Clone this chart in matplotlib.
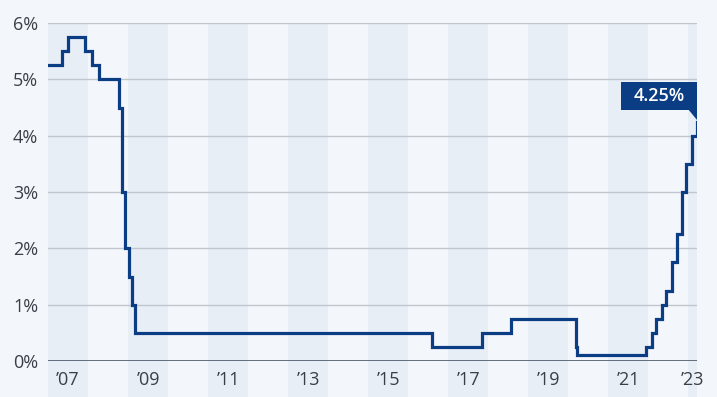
import numpy as np
import pandas as pd
import matplotlib
matplotlib.use('Agg')
import matplotlib.pyplot as plt
from matplotlib.patches import Rectangle, Polygon
from matplotlib.transforms import ScaledTranslation

# Bank rate decisions (date, rate in %)
dates = ['2007-01-11', '2007-05-10', '2007-07-05', '2007-12-06', '2008-02-07',
         '2008-04-10', '2008-10-08', '2008-11-06', '2008-12-04', '2009-01-08',
         '2009-02-05', '2009-03-05', '2016-08-04', '2017-11-02', '2018-08-02',
         '2020-03-11', '2020-03-19', '2021-12-16', '2022-02-03', '2022-03-17',
         '2022-05-05', '2022-06-16', '2022-08-04', '2022-09-22', '2022-11-03',
         '2022-12-15', '2023-02-02', '2023-03-23']
rates = [5.25, 5.5, 5.75, 5.5, 5.25, 5.0, 4.5, 3.0, 2.0, 1.5, 1.0, 0.5, 0.25,
         0.5, 0.75, 0.25, 0.1, 0.25, 0.5, 0.75, 1.0, 1.25, 1.75, 2.25, 3.0,
         3.5, 4.0, 4.25]
y_ticks = [0, 1, 2, 3, 4, 5, 6]
years = list(range(2007, 2024))
label_text = '4.25%'

def dec_year(s):
    d = pd.Timestamp(s)
    start = pd.Timestamp(year=d.year, month=1, day=1)
    end = pd.Timestamp(year=d.year + 1, month=1, day=1)
    return d.year + (d - start) / (end - start)

x = np.array([dec_year(s) for s in dates])
y = np.array(rates)

bg = '#f3f6fa'
band = '#e8eef5'
navy = '#0b3d85'
plt.rcParams['font.family'] = ['Open Sans', 'DejaVu Sans']

fig = plt.figure(figsize=(7.17, 3.97), dpi=100, facecolor=bg)
ax = fig.add_axes([48/717, 36/397, 649/717, 338/397])
ax.set_facecolor(bg)

xmin, xmax = 2007.0, x[-1]
ax.set_xlim(xmin, xmax)
ax.set_ylim(0, 6)

# alternating year bands (odd years shaded), extending down behind labels
tick_pos = []
tick_lab = []
for yr in years:
    a, b = max(yr, xmin), min(yr + 1, xmax)
    if yr % 2 == 1:
        ax.axvspan(a, b, ymin=-36/338, ymax=1, color=band, lw=0, zorder=0, clip_on=False)
        tick_pos.append((a + b) / 2)
        tick_lab.append('\u2019' + str(yr)[2:])

for t in y_ticks[1:]:
    ax.axhline(t, color='#c0c6ce', lw=1.0, zorder=1)
ax.axhline(0, color='#3c4a5c', lw=1.1, zorder=2)

ax.step(x, y, where='post', color=navy, lw=2.3, zorder=3, solid_joinstyle='miter')

for s in ax.spines.values():
    s.set_visible(False)
ax.set_yticks(y_ticks, [f'{t}%' for t in y_ticks])
ax.set_xticks(tick_pos, tick_lab)
ax.tick_params(axis='y', length=0, pad=7, labelsize=13, labelcolor='#3a3f47')
ax.tick_params(axis='x', length=0, pad=7, labelsize=13, labelcolor='#3a3f47')

# value callout attached to the last point
tr = fig.dpi_scale_trans + ScaledTranslation(x[-1], y[-1], ax.transData)
ax.add_patch(Rectangle((-0.76, 0.12), 0.76, 0.28, transform=tr, color=navy,
                       clip_on=False, zorder=5, lw=0))
ax.add_patch(Polygon([(-0.09, 0.121), (0, 0.121), (0, 0.02)], closed=True,
                     transform=tr, color=navy, clip_on=False, zorder=5, lw=0))
ax.text(-0.38, 0.26, label_text, transform=tr, ha='center', va='center',
        color='white', fontsize=13, fontweight='semibold', zorder=6)

fig.savefig('out.png', dpi=100, facecolor=bg)
